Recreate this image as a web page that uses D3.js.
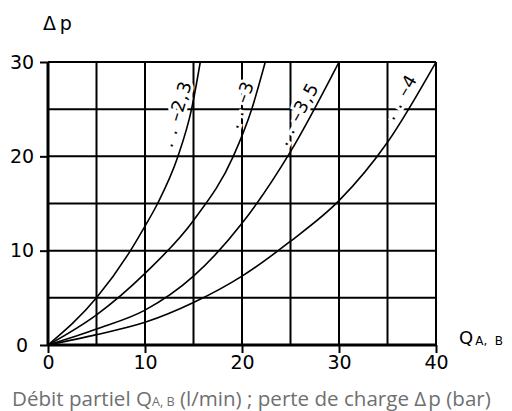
<!DOCTYPE html>
<html>
<head>
<meta charset="utf-8">
<script src="https://cdn.jsdelivr.net/npm/d3@7"></script>
<style>
  html, body { margin: 0; padding: 0; background: #fff; }
  svg { display: block; }
</style>
</head>
<body>
<svg id="chart" width="512" height="411"></svg>
<script>
// ---- data ----
const xTicks = [0, 10, 20, 30, 40];
const yTicks = [0, 10, 20, 30];
const gridStep = 5;

const q23 = [0, 5, 8.5, 10, 11.3, 13.4, 14.8, 15.7];
const p23 = [0, 5, 10, 12.6, 15, 20, 25, 30];

const q3 = [0, 5, 10, 15, 19.1, 21, 22.4];
const p3 = [0, 3.2, 7.6, 13.2, 20, 25, 30];

const q35 = [0, 5, 10, 15, 20, 25, 30];
const p35 = [0, 1.7, 3.7, 7.3, 12.9, 20.5, 30];

const q4 = [0, 5, 10, 15, 20, 25, 30, 35, 40];
const p4 = [0, 1.1, 2.4, 4.5, 7.3, 11.0, 15.3, 21.5, 30];

const seriesNames = ["2,3", "3", "3,5", "4"];
const seriesQ = [q23, q3, q35, q4];
const seriesP = [p23, p3, p35, p4];
// label anchor (data coords) and rotation for each curve label
const labelQ = [13.2, 19.8, 25.7, 36.3];
const labelP = [24.5, 25.5, 24.5, 26.3];
const labelAngle = [-73, -70, -61, -60];

// ---- layout ----
const svg = d3.select("#chart");
const x = d3.scaleLinear().domain([0, 40]).range([48, 436]);
const y = d3.scaleLinear().domain([0, 30]).range([345, 62]);

const gridVals = d3.range(0, 40 + 0.001, gridStep);
const gridValsY = d3.range(0, 30 + 0.001, gridStep);

// grid
const grid = svg.append("g").attr("stroke", "#000").attr("stroke-width", 2);
grid.selectAll("line.v").data(gridVals).join("line")
  .attr("x1", d => x(d)).attr("x2", d => x(d))
  .attr("y1", y(0)).attr("y2", y(30));
grid.selectAll("line.h").data(gridValsY).join("line")
  .attr("x1", x(0)).attr("x2", x(40))
  .attr("y1", d => y(d)).attr("y2", d => y(d));

// curve labels (white halo breaks the grid)
const labels = svg.append("g")
  .attr("font-family", "DejaVu Sans")
  .attr("font-size", 18)
  .attr("text-anchor", "middle");
seriesNames.forEach((n, i) => {
  labels.append("text")
    .attr("transform", `translate(${x(labelQ[i])},${y(labelP[i])}) rotate(${labelAngle[i]})`)
    .attr("dy", "0.35em")
    .attr("stroke", "#fff").attr("stroke-width", 6)
    .attr("paint-order", "stroke")
    .attr("fill", "#000")
    .attr("letter-spacing", 1)
    .text(". . –" + n);
});

// curves
const line = d3.line()
  .x(d => x(d[0])).y(d => y(d[1]))
  .curve(d3.curveMonotoneX);
seriesQ.forEach((qs, i) => {
  const pts = qs.map((q, j) => [q, seriesP[i][j]]);
  svg.append("path").datum(pts)
    .attr("d", line)
    .attr("fill", "none")
    .attr("stroke", "#000")
    .attr("stroke-width", 1.6);
});

// axes
const xAxis = d3.axisBottom(x).tickValues(xTicks).tickSize(8).tickFormat(d3.format("d"));
const gx = svg.append("g").attr("transform", `translate(0,${y(0)})`).call(xAxis);
gx.select(".domain").attr("stroke-width", 3).attr("d", `M${x(0)},0H${x(40)}`);
gx.selectAll(".tick line").attr("stroke-width", 2);
gx.selectAll(".tick text")
  .attr("font-family", "DejaVu Sans").attr("font-size", 19)
  .attr("fill", "#000").attr("y", 11).attr("dy", "0.71em");

const yAxis = d3.axisLeft(y).tickValues(yTicks).tickSize(8).tickFormat(d3.format("d"));
const gy = svg.append("g").attr("transform", `translate(${x(0)},0)`).call(yAxis);
gy.select(".domain").attr("stroke-width", 3).attr("d", `M0,${y(0)}V${y(30)}`);
gy.selectAll(".tick line").attr("stroke-width", 2);
gy.selectAll(".tick text")
  .attr("font-family", "DejaVu Sans").attr("font-size", 19)
  .attr("fill", "#000").attr("text-anchor", "middle").attr("x", -26).attr("dy", "0.32em");

// axis titles
svg.append("text")
  .attr("x", 43).attr("y", 30)
  .attr("font-family", "DejaVu Sans").attr("font-size", 19)
  .text("Δ\u2009p");

const qt = svg.append("text")
  .attr("x", 459).attr("y", 344)
  .attr("font-family", "DejaVu Sans").attr("font-size", 18);
qt.append("tspan").text("Q");
qt.append("tspan").attr("font-size", 12).attr("dx", 2).attr("dy", 1).text("A,\u00a0 B");

// caption
const cap = svg.append("text")
  .attr("x", 0).attr("y", 0)
  .attr("font-family", "Open Sans").attr("font-size", 19.5)
  .attr("fill", "#6f6f6f");
cap.append("tspan").text("Débit partiel Q");
cap.append("tspan").attr("font-size", 12).text("A, B");
cap.append("tspan").text(" (l/min) ; perte de charge Δ");
cap.append("tspan").attr("dx", 2).text("p (bar)");
const w = cap.node().getComputedTextLength();
const sx = 477 / w;
cap.attr("transform", `translate(12,405.5) scale(${sx},1)`);
</script>
</body>
</html>
